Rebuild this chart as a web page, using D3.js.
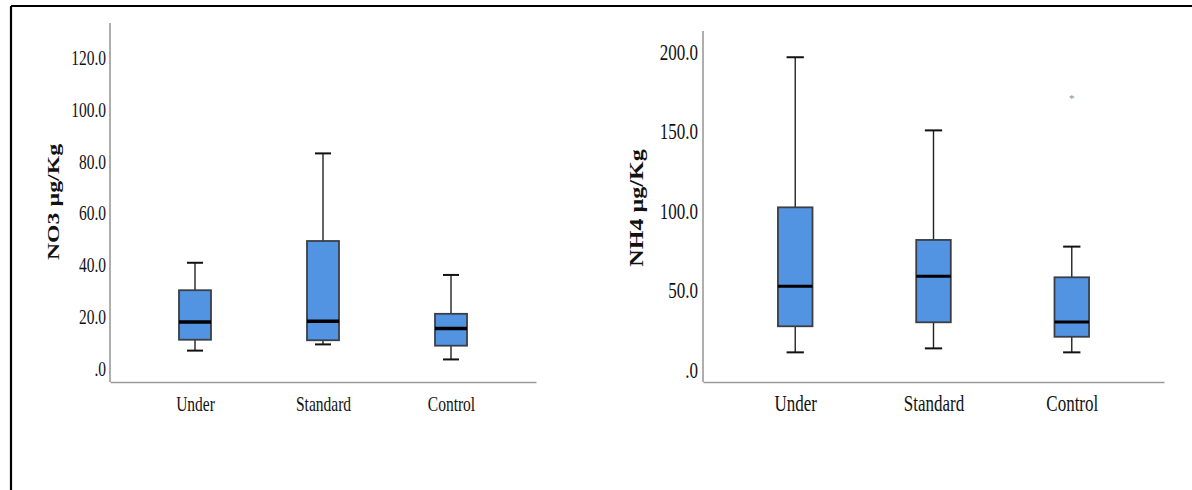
<!DOCTYPE html>
<html>
<head>
<meta charset="utf-8">
<script src="https://cdn.jsdelivr.net/npm/d3@7"></script>
<style>
  html, body { margin: 0; padding: 0; background: #fff; }
  svg { display: block; }
  text { font-family: "Liberation Serif", "Times New Roman", serif; fill: #111; }
</style>
</head>
<body>
<svg id="chart" width="1192" height="490"></svg>
<script>
// Groups shown on both panels
const categories = ["Under", "Standard", "Control"];

// NO3 (µg/Kg) box summaries per group
const no3Low    = [6.9, 9.3, 3.5];
const no3Q1     = [11.1, 10.9, 8.8];
const no3Median = [17.9, 18.2, 15.4];
const no3Q3     = [30.2, 49.2, 21.1];
const no3High   = [40.8, 83.0, 36.1];
const no3Ticks  = [0, 20, 40, 60, 80, 100, 120];

// NH4 (µg/Kg) box summaries per group
const nh4Low    = [11.1, 13.6, 11.1];
const nh4Q1     = [27.5, 30.0, 20.9];
const nh4Median = [52.6, 58.9, 30.2];
const nh4Q3     = [102.3, 81.8, 58.3];
const nh4High   = [196.7, 150.7, 77.6];
const nh4Extremes = [["Control", 171.5]];
const nh4Ticks  = [0, 50, 100, 150, 200];

const SERIF = '"Liberation Serif", "Times New Roman", serif';
const svg = d3.select("#chart");

// outer frame (top and left rules)
svg.append("line").attr("x1", 11).attr("x2", 1192).attr("y1", 6).attr("y2", 6)
  .attr("stroke", "#000").attr("stroke-width", 2.2);
svg.append("line").attr("x1", 11).attr("x2", 11).attr("y1", 6).attr("y2", 490)
  .attr("stroke", "#000").attr("stroke-width", 2.2);

const tickFmt = v => v === 0 ? ".0" : d3.format(".1f")(v);

function boxPanel(opt) {
  const { left, right, top, bottom, zeroY, maxTick, maxTickY, ticks,
          low, q1, med, q3, high, extremes, font, stretch, title, titleX, titleY, titleFont } = opt;

  const y = d3.scaleLinear().domain([0, maxTick]).range([zeroY, maxTickY]);
  const x = d3.scalePoint().domain(categories).range([left, right]).padding(opt.pad);
  const bw = x.step() * 0.25;

  const g = svg.append("g");

  // y axis: labels only, line drawn separately to span the plot height
  const ya = g.append("g").attr("transform", `translate(${left},0)`)
    .call(d3.axisLeft(y).tickValues(ticks).tickFormat(tickFmt).tickSize(0).tickSizeOuter(0).tickPadding(opt.tickPad));
  ya.select(".domain").remove();
  ya.selectAll("text")
    .style("font-family", SERIF).style("font-size", font + "px").style("fill", "#111")
    .attr("transform", `scale(1,${stretch})`);

  g.append("line").attr("x1", left).attr("x2", left).attr("y1", top).attr("y2", bottom)
    .attr("stroke", "#9a9a9a").attr("stroke-width", 1.6);

  // x axis
  const xa = g.append("g").attr("transform", `translate(0,${bottom})`)
    .call(d3.axisBottom(x).tickSize(0).tickSizeOuter(0).tickPadding(0));
  xa.select(".domain").attr("stroke", "#9a9a9a").attr("stroke-width", 1.6);
  xa.selectAll("text")
    .style("font-family", SERIF).style("font-size", font + "px").style("fill", "#111")
    .attr("dy", null).attr("y", 0)
    .attr("transform", `translate(0,${411 - bottom}) scale(1,${stretch})`);

  const rows = categories.map((c, i) => ({ c, lo: low[i], q1: q1[i], md: med[i], q3: q3[i], hi: high[i] }));
  const boxes = g.selectAll(".box").data(rows).join("g").attr("class", "box");

  // whiskers
  boxes.append("line").attr("x1", d => x(d.c)).attr("x2", d => x(d.c))
    .attr("y1", d => y(d.hi)).attr("y2", d => y(d.q3)).attr("stroke", "#222").attr("stroke-width", 1.4);
  boxes.append("line").attr("x1", d => x(d.c)).attr("x2", d => x(d.c))
    .attr("y1", d => y(d.q1)).attr("y2", d => y(d.lo)).attr("stroke", "#222").attr("stroke-width", 1.4);
  // caps
  boxes.append("line").attr("x1", d => x(d.c) - bw / 4).attr("x2", d => x(d.c) + bw / 4)
    .attr("y1", d => y(d.hi)).attr("y2", d => y(d.hi)).attr("stroke", "#111").attr("stroke-width", 2);
  boxes.append("line").attr("x1", d => x(d.c) - bw / 4).attr("x2", d => x(d.c) + bw / 4)
    .attr("y1", d => y(d.lo)).attr("y2", d => y(d.lo)).attr("stroke", "#111").attr("stroke-width", 2);
  // box
  boxes.append("rect").attr("x", d => x(d.c) - bw / 2).attr("width", bw)
    .attr("y", d => y(d.q3)).attr("height", d => y(d.q1) - y(d.q3))
    .attr("fill", "#5294e2").attr("stroke", "#3a3f47").attr("stroke-width", 1.8);
  // median
  boxes.append("line").attr("x1", d => x(d.c) - bw / 2).attr("x2", d => x(d.c) + bw / 2)
    .attr("y1", d => y(d.md)).attr("y2", d => y(d.md)).attr("stroke", "#000").attr("stroke-width", opt.medW);

  // extreme values
  g.selectAll(".ext").data(extremes).join("text").attr("class", "ext")
    .attr("x", d => x(d[0])).attr("y", d => y(d[1]) + 5)
    .attr("text-anchor", "middle")
    .style("font-family", SERIF).style("font-size", "11px").style("fill", "#8a8a8a")
    .text("*");

  // y title
  g.append("text")
    .attr("transform", `translate(${titleX},${titleY}) scale(1,${stretch}) rotate(-90)`)
    .attr("text-anchor", "middle")
    .style("font-family", SERIF).style("font-weight", "bold").style("font-size", titleFont + "px")
    .text(title);
}

boxPanel({
  left: 110, right: 536, top: 23, bottom: 382, pad: 0.664,
  zeroY: 368.5, maxTick: 120, maxTickY: 57.5, ticks: no3Ticks,
  low: no3Low, q1: no3Q1, med: no3Median, q3: no3Q3, high: no3High, extremes: [],
  font: 15.5, stretch: 1.4, tickPad: 4, medW: 3.5,
  title: "NO3 µg/Kg", titleX: 59, titleY: 202, titleFont: 17
});

boxPanel({
  left: 703, right: 1164, top: 31, bottom: 382, pad: 0.667,
  zeroY: 370, maxTick: 200, maxTickY: 52, ticks: nh4Ticks,
  low: nh4Low, q1: nh4Q1, med: nh4Median, q3: nh4Q3, high: nh4High, extremes: nh4Extremes,
  font: 17, stretch: 1.3, tickPad: 5, medW: 3,
  title: "NH4 µg/Kg", titleX: 643, titleY: 208, titleFont: 18.5
});
</script>
</body>
</html>
